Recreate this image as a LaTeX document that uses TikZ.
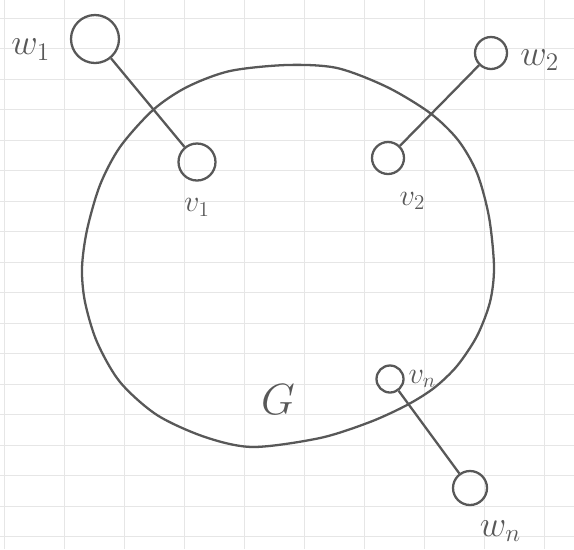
\documentclass[tikz,border=0pt]{standalone}
\usepackage{tikz}
\usetikzlibrary{positioning}

\definecolor{pencil}{HTML}{585858}
\definecolor{paper}{HTML}{E6E6E6}

\begin{document}
\begin{tikzpicture}[
    x=0.02cm, y=-0.02cm,
    vert/.style={draw=pencil, circle, line width=1.3pt, inner sep=0pt},
    lbl/.style={text=pencil, inner sep=1pt},
    edge/.style={draw=pencil, line width=1.3pt},
    node distance=2pt
]

%% ---- paper --------------------------------------------------------
\useasboundingbox (0,0) rectangle (574,549);
\foreach \gx in {0,...,9} \draw[paper, line width=0.5pt] (4+60*\gx,0) -- (4+60*\gx,549);
\foreach \gy in {0,...,17} \draw[paper, line width=0.5pt] (0,18+30.5*\gy) -- (574,18+30.5*\gy);

%% ---- the graph G ---------------------------------------------------
\draw[pencil, line width=1.3pt] plot[smooth cycle, tension=0.5] coordinates {
    (287,65) (337,68) (387,87) (430,113) (458,140) (477,173) (489,217)
    (494,267) (490,302) (477,336) (457,366) (434,388) (407,405) (370,422)
    (320,438) (253,447) (205,437) (157,415) (120,382) (97,342) (85,302)
    (82,268) (87,230) (100,185) (120,147) (153,110) (187,87) (230,71)};
\node[lbl, font=\fontsize{28}{30}\selectfont] (glbl) at (278,400) {$G$};

%% ---- inner vertices ------------------------------------------------
\node[vert, minimum size=0.74cm] (v1) at (197,162) {};
\node[vert, minimum size=0.64cm] (v2) at (388,158) {};
\node[vert, minimum size=0.54cm] (vn) at (390,379) {};

%% ---- outer vertices ------------------------------------------------
\node[vert, minimum size=0.96cm] (w1) at (95,39)  {};
\node[vert, minimum size=0.64cm] (w2) at (491,53) {};
\node[vert, minimum size=0.68cm] (wn) at (470,488) {};

\draw[edge] (w1) -- (v1);
\draw[edge] (v2) -- (w2);
\draw[edge] (vn) -- (wn);

%% ---- labels --------------------------------------------------------
\node[lbl, font=\huge, left=0.35cm of w1, yshift=-6pt] (w1lbl) {$w_1$};
\node[lbl, font=\LARGE, below=0.3cm of v1] (v1lbl) {$v_1$};
\node[lbl, font=\LARGE, below right=0.4cm and -0.05cm of v2] (v2lbl) {$v_2$};
\node[lbl, font=\huge, right=0.2cm of w2, yshift=-4pt] (w2lbl) {$w_2$};
\node[lbl, font=\LARGE, right=1pt of vn] (vnlbl) {$v_n$};
\node[lbl, font=\huge, below right=0.35cm and -0.1cm of wn] (wnlbl) {$w_n$};

\end{tikzpicture}
\end{document}
